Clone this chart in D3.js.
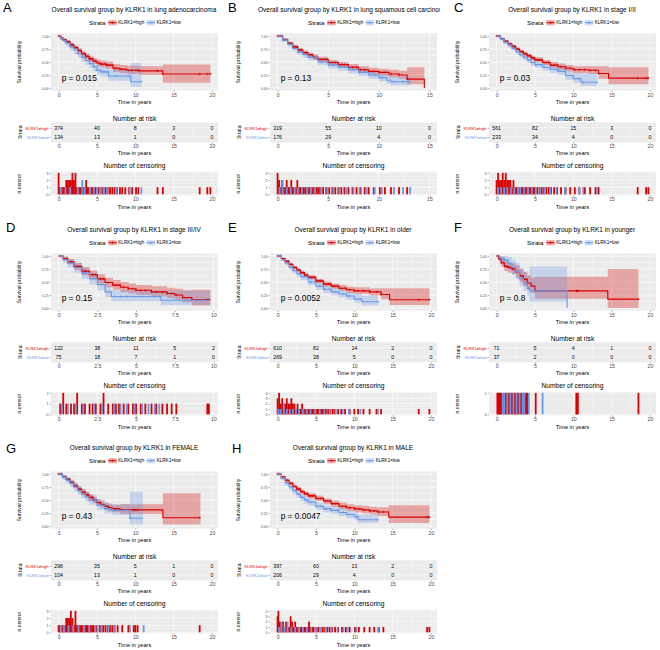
<!DOCTYPE html>
<html>
<head>
<meta charset="utf-8">
<style>
  body { margin: 0; background: #fff; }
  svg text { font-family: "Liberation Sans", Arial, sans-serif; }
</style>
</head>
<body>
<svg id="svg" width="660" height="650"></svg>
<script src="https://d3js.org/d3.v7.min.js"></script>
<script>

// ---- data ----
const letters = ["A", "B", "C", "D", "E", "F", "G", "H"];
const titles = [
  "Overall survival group by KLRK1 in lung adenocarcinoma",
  "Overall survival group by KLRK1 in lung squamous cell carcinoma",
  "Overall survival group by KLRK1 in stage I/II",
  "Overall survival group by KLRK1 in stage III/IV",
  "Overall survival group by KLRK1 in older",
  "Overall survival group by KLRK1 in younger",
  "Overall survival group by KLRK1 in FEMALE",
  "Overall survival group by KLRK1 in MALE"
];
const strata = ["KLRK1=high", "KLRK1=low"];
const xMax = [19.8, 15, 19.8, 9.8, 19.8, 19.8, 19.8, 19.8];
const xStep = [5, 5, 5, 2.5, 5, 5, 5, 5];
const pValues = ["p = 0.015", "p = 0.13", "p = 0.03", "p = 0.15", "p = 0.0052", "p = 0.8", "p = 0.43", "p = 0.0047"];

const riskHigh = [
  [374, 40, 8, 3, 0], [319, 55, 10, 0], [561, 82, 15, 3, 0], [122, 38, 11, 5, 2],
  [610, 82, 14, 2, 0], [71, 5, 4, 1, 0], [296, 35, 5, 1, 0], [397, 60, 13, 2, 0]
];
const riskLow = [
  [134, 13, 1, 0, 0], [176, 29, 4, 0], [233, 34, 4, 0, 0], [75, 18, 7, 1, 0],
  [269, 38, 5, 0, 0], [37, 2, 0, 0, 0], [104, 13, 1, 0, 0], [206, 29, 4, 0, 0]
];

// survival steps: [time, survival, lower CI, upper CI]
const survHigh = [
  [[0,1,1,1],[0.3,0.96,0.94,0.98],[0.6,0.93,0.9,0.95],[1,0.89,0.86,0.92],[1.5,0.83,0.79,0.87],[2,0.78,0.74,0.82],[2.5,0.72,0.67,0.77],[3,0.66,0.61,0.71],[3.5,0.61,0.56,0.67],[4,0.56,0.5,0.62],[4.5,0.52,0.46,0.58],[5,0.48,0.42,0.55],[5.5,0.46,0.4,0.53],[6.2,0.44,0.37,0.51],[7.1,0.38,0.31,0.46],[8,0.36,0.29,0.44],[8.9,0.34,0.27,0.43],[10.5,0.33,0.25,0.42],[13.6,0.27,0.1,0.45],[19.8,0.27,0.1,0.45]],
  [[0,1,1,1],[0.5,0.93,0.91,0.95],[1,0.86,0.83,0.89],[1.5,0.79,0.76,0.83],[2,0.73,0.69,0.77],[2.5,0.68,0.64,0.72],[3,0.64,0.59,0.68],[3.5,0.59,0.54,0.64],[4,0.55,0.5,0.6],[5,0.49,0.44,0.54],[6,0.45,0.39,0.5],[7,0.4,0.34,0.46],[8,0.35,0.29,0.42],[9,0.32,0.26,0.39],[10,0.3,0.23,0.37],[11,0.27,0.2,0.35],[12,0.25,0.18,0.33],[12.8,0.17,0.07,0.4],[14.5,0,0,0]],
  [[0,1,1,1],[0.5,0.95,0.94,0.96],[1,0.9,0.88,0.92],[1.5,0.85,0.82,0.87],[2,0.8,0.77,0.83],[2.5,0.75,0.72,0.78],[3,0.7,0.67,0.74],[3.5,0.66,0.62,0.7],[4,0.62,0.58,0.66],[4.5,0.58,0.54,0.62],[5,0.54,0.5,0.59],[6,0.49,0.44,0.54],[7,0.44,0.39,0.5],[8,0.41,0.35,0.47],[9,0.38,0.32,0.44],[10,0.35,0.29,0.42],[12,0.34,0.27,0.42],[13.3,0.28,0.18,0.42],[14.6,0.19,0.07,0.4],[19.8,0.19,0.07,0.4]],
  [[0,1,1,1],[0.3,0.95,0.91,0.99],[0.6,0.89,0.84,0.94],[1,0.8,0.73,0.87],[1.5,0.71,0.63,0.79],[2,0.64,0.56,0.72],[2.5,0.56,0.47,0.65],[3,0.49,0.4,0.58],[3.5,0.44,0.35,0.54],[4,0.4,0.31,0.5],[4.5,0.37,0.28,0.47],[5,0.34,0.25,0.44],[6,0.31,0.22,0.42],[7,0.28,0.19,0.39],[7.5,0.25,0.16,0.37],[8,0.2,0.11,0.34],[8.6,0.16,0.05,0.35],[9.8,0.16,0.05,0.35]],
  [[0,1,1,1],[0.5,0.95,0.94,0.96],[1,0.9,0.88,0.92],[1.5,0.84,0.82,0.86],[2,0.78,0.75,0.81],[2.5,0.73,0.7,0.76],[3,0.68,0.64,0.71],[3.5,0.63,0.59,0.67],[4,0.59,0.55,0.63],[5,0.52,0.47,0.56],[6,0.46,0.41,0.51],[7,0.42,0.37,0.47],[8,0.38,0.33,0.44],[9,0.35,0.29,0.41],[10,0.33,0.27,0.4],[12,0.31,0.24,0.38],[13.5,0.26,0.17,0.38],[14.6,0.16,0.06,0.38],[19.8,0.16,0.06,0.38]],
  [[0,1,1,1],[0.3,0.95,0.9,1],[0.6,0.87,0.8,0.95],[1,0.8,0.71,0.9],[1.5,0.78,0.68,0.88],[2,0.75,0.65,0.86],[2.5,0.7,0.59,0.82],[3,0.62,0.5,0.75],[3.5,0.55,0.42,0.69],[4,0.48,0.35,0.63],[4.5,0.42,0.29,0.58],[5,0.33,0.18,0.6],[14.5,0.17,0,0.75],[18.5,0.17,0,0.75]],
  [[0,1,1,1],[0.5,0.95,0.93,0.97],[1,0.9,0.87,0.93],[1.5,0.84,0.8,0.88],[2,0.77,0.73,0.82],[2.5,0.71,0.66,0.76],[3,0.65,0.59,0.71],[3.5,0.6,0.54,0.66],[4,0.55,0.49,0.61],[4.5,0.5,0.44,0.56],[5,0.45,0.39,0.52],[5.5,0.41,0.35,0.48],[6,0.38,0.31,0.45],[6.5,0.35,0.28,0.42],[7,0.33,0.26,0.41],[8,0.31,0.23,0.42],[13.6,0.16,0.03,0.63],[18.5,0.16,0.03,0.63]],
  [[0,1,1,1],[0.5,0.94,0.93,0.96],[1,0.88,0.86,0.91],[1.5,0.82,0.79,0.85],[2,0.76,0.73,0.8],[2.5,0.71,0.67,0.75],[3,0.66,0.62,0.7],[3.5,0.62,0.57,0.66],[4,0.58,0.53,0.63],[5,0.53,0.48,0.58],[6,0.48,0.42,0.53],[7,0.43,0.37,0.49],[8,0.38,0.32,0.45],[9,0.35,0.29,0.42],[10,0.33,0.26,0.4],[11,0.31,0.24,0.39],[12,0.29,0.22,0.37],[13,0.27,0.19,0.36],[14.5,0.17,0.06,0.4],[19.8,0.17,0.06,0.4]]
];
const survLow = [
  [[0,1,1,1],[0.3,0.95,0.92,0.98],[0.7,0.9,0.85,0.94],[1,0.86,0.8,0.91],[1.5,0.79,0.72,0.86],[2,0.73,0.65,0.8],[2.5,0.66,0.58,0.75],[3,0.59,0.5,0.68],[3.5,0.53,0.44,0.63],[4,0.47,0.38,0.57],[4.5,0.41,0.32,0.51],[5,0.34,0.25,0.45],[5.5,0.31,0.22,0.42],[6.5,0.23,0.14,0.36],[9.4,0.12,0.02,0.48],[10.8,0.12,0.02,0.48]],
  [[0,1,1,1],[0.5,0.92,0.89,0.95],[1,0.84,0.8,0.88],[1.5,0.76,0.71,0.81],[2,0.69,0.64,0.75],[2.5,0.64,0.58,0.7],[3,0.59,0.53,0.65],[4,0.5,0.44,0.57],[5,0.44,0.37,0.51],[6,0.4,0.33,0.47],[7,0.35,0.28,0.43],[8,0.3,0.23,0.38],[9,0.25,0.18,0.33],[10,0.2,0.13,0.29],[10.8,0.15,0.08,0.25],[11.2,0.12,0.05,0.22],[13.1,0.12,0.05,0.22]],
  [[0,1,1,1],[0.5,0.94,0.92,0.96],[1,0.88,0.85,0.91],[1.5,0.82,0.78,0.86],[2,0.76,0.72,0.8],[2.5,0.7,0.65,0.75],[3,0.64,0.59,0.69],[3.5,0.59,0.54,0.64],[4,0.54,0.48,0.6],[4.5,0.49,0.43,0.55],[5,0.45,0.39,0.51],[6,0.4,0.34,0.47],[7,0.36,0.29,0.43],[8,0.32,0.25,0.4],[9,0.24,0.16,0.34],[10,0.18,0.1,0.3],[11,0.11,0.04,0.29],[13.1,0.11,0.04,0.29]],
  [[0,1,1,1],[0.3,0.93,0.87,0.99],[0.6,0.86,0.78,0.94],[1,0.78,0.68,0.87],[1.5,0.67,0.56,0.78],[2,0.56,0.45,0.68],[2.5,0.45,0.34,0.57],[3,0.31,0.21,0.43],[3.4,0.22,0.13,0.34],[6.6,0.15,0.06,0.33],[9.8,0.15,0.06,0.33]],
  [[0,1,1,1],[0.5,0.93,0.9,0.96],[1,0.86,0.82,0.9],[1.5,0.79,0.74,0.84],[2,0.72,0.67,0.77],[2.5,0.66,0.6,0.72],[3,0.6,0.54,0.66],[4,0.5,0.44,0.57],[5,0.42,0.35,0.49],[6,0.36,0.29,0.43],[7,0.31,0.24,0.39],[8,0.27,0.2,0.35],[9,0.23,0.16,0.31],[10,0.17,0.1,0.27],[11,0.12,0.05,0.24],[13.1,0.12,0.05,0.24]],
  [[0,1,1,1],[0.4,0.96,0.88,1],[1,0.92,0.82,1],[1.5,0.85,0.73,0.98],[2,0.78,0.65,0.93],[2.5,0.7,0.56,0.87],[3,0.57,0.42,0.77],[3.5,0.48,0.33,0.7],[4,0.38,0.23,0.62],[4.3,0.33,0.12,0.8],[9.2,0,0,0]],
  [[0,1,1,1],[0.5,0.94,0.9,0.98],[1,0.88,0.82,0.94],[1.5,0.82,0.75,0.89],[2,0.75,0.67,0.83],[2.5,0.68,0.6,0.77],[3,0.62,0.53,0.71],[3.5,0.56,0.47,0.66],[4,0.5,0.41,0.6],[5,0.4,0.31,0.51],[6,0.33,0.24,0.44],[7,0.3,0.21,0.42],[9.3,0.15,0.03,0.66],[11,0.15,0.03,0.66]],
  [[0,1,1,1],[0.5,0.92,0.88,0.95],[1,0.83,0.78,0.88],[1.5,0.75,0.69,0.81],[2,0.68,0.61,0.74],[2.5,0.61,0.54,0.68],[3,0.55,0.48,0.62],[3.5,0.5,0.43,0.57],[4,0.46,0.39,0.53],[5,0.38,0.31,0.45],[6,0.33,0.26,0.4],[7,0.3,0.23,0.37],[8,0.26,0.19,0.34],[9,0.22,0.15,0.3],[10,0.18,0.11,0.26],[10.5,0.12,0.06,0.22],[13.1,0.12,0.06,0.22]]
];

// censoring events: [time, count]
const censorHigh = [
  [[0,3],[0.2,1],[0.4,1],[0.6,1],[0.8,1],[1.0,2],[1.2,2],[1.4,2],[1.6,2],[1.8,3],[2.0,2],[2.2,3],[2.4,1],[2.6,1],[2.8,1],[3.0,1],[3.2,1],[3.4,1],[3.6,2],[3.8,1],[4.0,1],[4.2,1],[4.4,1],[4.6,1],[4.8,1],[5.2,1],[5.5,1],[5.8,1],[6.1,1],[6.4,1],[6.7,1],[7.0,1],[7.3,1],[7.6,1],[8.0,1],[8.3,1],[8.7,1],[9.2,1],[9.6,1],[10.1,1],[10.4,1],[12.9,1],[13.6,1],[18.4,1],[19.4,1],[19.8,1]],
  [[0,3],[0.15,2],[0.3,1],[0.45,2],[0.6,1],[0.75,1],[0.9,2],[1.05,1],[1.2,1],[1.35,2],[1.5,1],[1.65,1],[1.8,1],[1.95,2],[2.1,1],[2.25,1],[2.4,1],[2.6,1],[2.8,1],[3.0,1],[3.2,1],[3.4,1],[3.6,1],[3.8,1],[4.0,1],[4.2,1],[4.5,1],[4.8,1],[5.1,1],[5.4,1],[5.7,1],[6.0,1],[6.3,1],[6.6,1],[7.0,1],[7.4,1],[7.8,1],[8.2,1],[8.6,1],[9.0,1],[9.5,1],[10.1,1],[10.6,1],[11.2,1],[12.0,1],[12.8,1]],
  [[0,2],[0.2,3],[0.4,2],[0.6,2],[0.8,3],[1.0,2],[1.2,3],[1.4,2],[1.6,2],[1.8,2],[2.0,1],[2.2,2],[2.4,1],[2.6,1],[2.8,1],[3.0,1],[3.2,1],[3.4,1],[3.6,1],[3.8,1],[4.0,1],[4.2,1],[4.4,1],[4.6,1],[4.8,1],[5.0,1],[5.3,1],[5.6,1],[5.9,1],[6.2,1],[6.5,1],[6.8,1],[7.1,1],[7.5,1],[7.9,1],[8.4,1],[9.0,1],[9.6,1],[10.2,1],[10.8,1],[11.5,1],[12.2,1],[12.9,1],[13.3,1],[18.4,1],[19.5,1],[19.8,1]],
  [[0.1,1],[0.3,2],[0.5,1],[0.8,1],[1.0,1],[1.2,2],[1.5,1],[1.7,1],[2.0,1],[2.2,1],[2.4,1],[2.7,1],[2.9,2],[3.2,1],[3.5,1],[3.7,1],[3.9,1],[4.2,1],[4.5,1],[4.8,1],[5.0,1],[5.3,1],[5.6,1],[6.0,1],[6.3,1],[6.7,1],[7.0,1],[7.3,1],[7.6,1],[9.6,1],[9.7,1]],
  [[0,3],[0.2,4],[0.4,2],[0.6,3],[0.8,2],[1.0,2],[1.2,3],[1.4,2],[1.6,2],[1.8,3],[2.0,2],[2.2,2],[2.4,1],[2.6,2],[2.8,1],[3.0,1],[3.2,2],[3.4,1],[3.6,1],[3.8,1],[4.0,1],[4.2,1],[4.4,1],[4.6,1],[4.8,1],[5.0,1],[5.2,1],[5.4,1],[5.6,1],[5.8,1],[6.0,1],[6.3,1],[6.6,1],[6.9,1],[7.2,1],[7.5,1],[7.9,1],[8.3,1],[8.8,1],[9.4,1],[10.0,1],[10.5,1],[11.2,1],[12.0,1],[12.9,1],[13.5,1],[18.4,1],[19.8,1]],
  [[0.1,1],[0.2,1],[0.3,1],[0.4,1],[0.5,1],[0.6,1],[0.9,1],[1.1,1],[1.3,1],[1.5,1],[1.7,1],[1.9,1],[2.1,1],[2.3,1],[2.5,1],[2.7,1],[2.9,1],[3.1,1],[3.3,1],[3.5,1],[3.7,1],[3.9,1],[4.0,1],[5.1,1],[10.4,1],[10.5,1],[10.6,1],[18.5,1]],
  [[0,1],[0.2,1],[0.4,1],[0.6,1],[0.8,1],[1.0,2],[1.2,2],[1.4,2],[1.6,3],[1.8,2],[2.0,1],[2.2,3],[2.4,1],[2.6,1],[2.8,1],[3.0,1],[3.2,1],[3.4,1],[3.6,1],[3.8,1],[4.0,1],[4.2,1],[4.4,1],[4.6,1],[5.0,1],[5.4,1],[5.8,1],[6.1,1],[6.4,1],[6.7,1],[7.0,1],[7.3,1],[7.7,1],[8.3,1],[9.1,1],[9.8,1],[10.0,1],[10.3,1],[18.4,1]],
  [[0,3],[0.1,4],[0.3,2],[0.5,1],[0.7,2],[0.9,1],[1.1,2],[1.3,1],[1.5,1],[1.7,3],[1.9,2],[2.1,1],[2.3,2],[2.5,1],[2.7,1],[2.9,1],[3.1,1],[3.3,1],[3.5,1],[3.7,1],[3.9,1],[4.1,2],[4.3,1],[4.5,1],[4.7,1],[5.0,1],[5.3,1],[5.6,1],[5.9,1],[6.2,1],[6.5,1],[6.8,1],[7.1,1],[7.5,1],[7.9,1],[8.4,1],[8.9,1],[9.4,1],[10.1,1],[10.6,1],[11.3,1],[12.0,1],[12.6,1],[13.2,1],[13.8,1],[19.5,1],[19.8,1]]
];
const censorLow = [
  [[0.3,1],[0.9,1],[1.5,1],[2.5,1],[3.1,2],[3.4,1],[4.1,1],[4.6,1],[5.0,1],[5.4,1],[5.9,1],[6.3,1],[7.5,1],[9.3,1],[10.8,1]],
  [[0.2,1],[0.5,2],[0.9,1],[1.3,1],[1.7,1],[2.0,1],[2.4,1],[2.9,1],[3.3,1],[3.7,1],[4.3,1],[4.9,1],[5.5,1],[6.1,1],[6.8,1],[7.5,1],[8.1,1],[8.8,1],[9.6,1],[10.3,1],[11.5,1],[12.4,1],[13.1,1]],
  [[0.2,1],[0.6,1],[1.0,1],[1.4,1],[1.9,1],[2.3,1],[2.8,1],[3.1,1],[3.6,1],[4.1,1],[4.6,1],[5.1,1],[5.7,1],[6.3,1],[7.0,1],[7.8,1],[8.9,1],[10.8,1],[11.3,1],[13.1,1]],
  [[0.2,1],[0.6,1],[1.1,1],[1.6,1],[2.3,1],[2.8,1],[3.6,1],[4.0,1],[4.4,1],[4.9,1],[5.4,1],[5.8,1],[6.2,1],[6.5,1]],
  [[0.1,1],[0.4,1],[0.8,2],[1.2,1],[1.6,1],[2.0,1],[2.4,1],[2.8,1],[3.3,1],[3.8,1],[4.3,1],[4.9,1],[5.5,1],[6.1,1],[6.8,1],[7.6,1],[8.5,1],[9.3,1],[10.8,1],[13.1,1]],
  [[0.8,1],[1.0,1],[1.4,1],[1.8,1],[2.2,1],[2.6,1],[3.0,1],[3.4,1],[3.6,1],[4.2,1],[6.0,1]],
  [[0.3,1],[0.7,1],[1.3,1],[1.9,1],[2.6,1],[3.3,1],[4.0,1],[4.8,1],[5.1,1],[5.6,1],[6.5,1],[7.2,1],[9.3,1],[11.1,1]],
  [[0.2,1],[0.5,2],[0.9,1],[1.3,2],[1.8,1],[2.3,1],[2.8,1],[3.3,1],[3.8,1],[4.4,1],[5.0,1],[5.6,1],[6.3,1],[7.0,1],[7.8,1],[8.6,1],[9.2,1],[10.3,1],[13.1,1]]
];

// ---- layout ----
const COLS = [0, 219, 438];
const ROWS = [0, 220, 438];
const letterPos = [[3, 12.3], [228, 12.3], [454, 12.3], [6, 231.7], [228, 231.7], [454, 231.7], [6, 453], [232, 453]];
const RED = "#D80000", BLUE = "#6A98E6";
const GREY_TXT = "#4D4D4D";
const PL = 51, PR = 218;          // plot left / right
const PCX = (PL + PR) / 2;

const svg = d3.select("#svg");
const defs = svg.append("defs");

function label(g, x, y, s, size, o) {
  o = o || {};
  const t = g.append("text").attr("x", x).attr("y", y).text(s)
    .attr("font-size", size)
    .attr("text-anchor", o.anchor || "middle")
    .attr("fill", o.fill || "#000");
  if (o.rotate) t.attr("transform", `rotate(-90,${x},${y})`);
  return t;
}

function panelBg(g, top, bottom, xs, xMajor, xMinor, ys, yMajor, yMinor) {
  g.append("rect").attr("x", PL).attr("y", top).attr("width", PR - PL).attr("height", bottom - top).attr("fill", "#EBEBEB");
  g.selectAll(null).data(xMinor).enter().append("line")
    .attr("x1", d => xs(d)).attr("x2", d => xs(d)).attr("y1", top).attr("y2", bottom)
    .attr("stroke", "#fff").attr("stroke-width", 0.3);
  g.selectAll(null).data(yMinor).enter().append("line")
    .attr("y1", d => ys(d)).attr("y2", d => ys(d)).attr("x1", PL).attr("x2", PR)
    .attr("stroke", "#fff").attr("stroke-width", 0.3);
  g.selectAll(null).data(xMajor).enter().append("line")
    .attr("x1", d => xs(d)).attr("x2", d => xs(d)).attr("y1", top).attr("y2", bottom)
    .attr("stroke", "#fff").attr("stroke-width", 0.6);
  g.selectAll(null).data(yMajor).enter().append("line")
    .attr("y1", d => ys(d)).attr("y2", d => ys(d)).attr("x1", PL).attr("x2", PR)
    .attr("stroke", "#fff").attr("stroke-width", 0.6);
}

function styleAxis(a, size) {
  a.attr("font-family", null).attr("font-size", size);
  a.select(".domain").remove();
  a.selectAll("line").attr("stroke", "#333").attr("stroke-width", 0.4);
  a.selectAll("text").attr("fill", GREY_TXT);
}

function bottomAxis(g, xs, ticks, y) {
  g.append("g").attr("transform", `translate(0,${y})`)
    .call(d3.axisBottom(xs).tickValues(ticks).tickSize(1.4).tickPadding(1).tickFormat(d3.format("~g")))
    .call(a => styleAxis(a, 5.2));
}

function survAt(steps, t) {
  let s = 1;
  steps.forEach(d => { if (d[0] <= t) s = d[1]; });
  return s;
}

function drawPanel(i) {
  const ox = COLS[i % 3], oy = ROWS[Math.floor(i / 3)];
  const xm = xMax[i], step = xStep[i];
  const root = svg.append("g").attr("transform", `translate(${ox},${oy})`);
  defs.append("clipPath").attr("id", "clip" + i).append("rect").attr("width", 221).attr("height", 216);
  const g = root.append("g").attr("clip-path", `url(#clip${i})`);

  const groups = [
    { name: strata[0], color: RED, surv: survHigh[i], cens: censorHigh[i], risk: riskHigh[i] },
    { name: strata[1], color: BLUE, surv: survLow[i], cens: censorLow[i], risk: riskLow[i] }
  ];

  const x = d3.scaleLinear().domain([-0.05 * xm, 1.05 * xm]).range([PL, PR]);
  const xTicks = d3.range(0, 1.05 * xm + 1e-6, step);
  const xMinor = xTicks.map(t => t + step / 2).filter(t => t < 1.05 * xm);

  // ---- title + legend ----
  label(g, 134, 12, titles[i], 6.5);
  label(g, 89, 25, "Strata", 6.2, { anchor: "start" });
  const keyX = [108.3, 146.7];
  groups.forEach((gr, k) => {
    const kx = keyX[k];
    g.append("rect").attr("x", kx).attr("y", 20).attr("width", 8.4).attr("height", 5.4)
      .attr("fill", gr.color).attr("fill-opacity", 0.3);
    g.append("line").attr("x1", kx).attr("x2", kx + 8.4).attr("y1", 22.7).attr("y2", 22.7)
      .attr("stroke", gr.color).attr("stroke-width", 1);
    g.append("path").attr("d", `M${kx + 2.7},22.7h3M${kx + 4.2},21.2v3`)
      .attr("stroke", gr.color).attr("stroke-width", 0.6);
    label(g, kx + 10, 24.4, gr.name, 4.6, { anchor: "start" });
  });

  // ---- survival curves ----
  const T1 = 33.4, B1 = 90.6;
  const y = d3.scaleLinear().domain([-0.05, 1.05]).range([B1, T1]);
  panelBg(g, T1, B1, x, xTicks, xMinor, y, [0, 0.25, 0.5, 0.75, 1], [0.125, 0.375, 0.625, 0.875]);

  const band = d3.area().curve(d3.curveStepAfter)
    .x(d => x(d[0])).y0(d => y(d[2])).y1(d => y(d[3]));
  const line = d3.line().curve(d3.curveStepAfter)
    .x(d => x(d[0])).y(d => y(d[1]));

  groups.forEach(gr => {
    g.append("path").datum(gr.surv).attr("d", band)
      .attr("fill", gr.color).attr("fill-opacity", 0.3);
  });
  groups.forEach(gr => {
    g.append("path").datum(gr.surv).attr("d", line)
      .attr("fill", "none").attr("stroke", gr.color).attr("stroke-width", 1.1);
    const end = gr.surv[gr.surv.length - 1][0];
    g.selectAll(null).data(gr.cens.filter(c => c[0] <= end)).enter().append("path")
      .attr("transform", d => `translate(${x(d[0])},${y(survAt(gr.surv, d[0]))})`)
      .attr("d", "M-1.3,0H1.3M0,-1.3V1.3")
      .attr("stroke", gr.color).attr("stroke-width", 0.55);
  });

  g.append("text").attr("x", x(xm * 0.02)).attr("y", y(0.2)).attr("dy", "0.36em")
    .attr("font-size", 8.4).text(pValues[i]);

  g.append("g").attr("transform", `translate(${PL},0)`)
    .call(d3.axisLeft(y).tickValues([0, 0.25, 0.5, 0.75, 1]).tickSize(1.4).tickPadding(1).tickFormat(d3.format(".2f")))
    .call(a => styleAxis(a, 3.4));
  bottomAxis(g, x, xTicks, B1);
  label(g, PCX, 103.5, "Time in years", 5.6);
  label(g, 21, 62, "Survival probability", 5.1, { rotate: true });

  // ---- number at risk ----
  const T2 = 122.3, B2 = 142.3;
  label(g, PCX, 120.8, "Number at risk", 6.7);
  const yr = d3.scalePoint().domain(strata).range([T2, B2]).padding(0.6);
  g.append("rect").attr("x", PL).attr("y", T2).attr("width", PR - PL).attr("height", B2 - T2).attr("fill", "#EBEBEB");
  g.selectAll(null).data(xMinor).enter().append("line")
    .attr("x1", d => x(d)).attr("x2", d => x(d)).attr("y1", T2).attr("y2", B2)
    .attr("stroke", "#fff").attr("stroke-width", 0.3);
  g.selectAll(null).data(xTicks).enter().append("line")
    .attr("x1", d => x(d)).attr("x2", d => x(d)).attr("y1", T2).attr("y2", B2)
    .attr("stroke", "#fff").attr("stroke-width", 0.6);
  g.selectAll(null).data(strata).enter().append("line")
    .attr("y1", d => yr(d)).attr("y2", d => yr(d)).attr("x1", PL).attr("x2", PR)
    .attr("stroke", "#fff").attr("stroke-width", 0.6);
  groups.forEach(gr => {
    g.selectAll(null).data(gr.risk).enter().append("text")
      .attr("x", (d, j) => x(xTicks[j])).attr("y", yr(gr.name)).attr("dy", "0.36em")
      .attr("text-anchor", "middle").attr("font-size", 5.2).text(d => d);
  });
  const ya = g.append("g").attr("transform", `translate(${PL},0)`)
    .call(d3.axisLeft(yr).tickSize(1.4).tickPadding(1))
    .call(a => styleAxis(a, 4.1));
  ya.selectAll("text").attr("fill", (d, j) => groups[j].color);
  bottomAxis(g, x, xTicks, B2);
  label(g, PCX, 155, "Time in years", 5.6);
  label(g, 22, 132.3, "Strata", 5.1, { rotate: true });

  // ---- number of censoring ----
  const T3 = 171.8, B3 = 195.4;
  label(g, PCX, 167.5, "Number of censoring", 6.7);
  const cMax = d3.max(groups, gr => d3.max(gr.cens, d => d[1]));
  const yc = d3.scaleLinear().domain([-0.05 * cMax, 1.05 * cMax]).range([B3, T3]);
  const cTicks = d3.range(0, cMax + 1);
  panelBg(g, T3, B3, x, xTicks, xMinor, yc, cTicks, cTicks.slice(1).map(v => v - 0.5));
  groups.forEach(gr => {
    g.selectAll(null).data(gr.cens).enter().append("rect")
      .attr("x", d => x(d[0]) - 0.9).attr("width", 1.8)
      .attr("y", d => yc(d[1])).attr("height", d => yc(0) - yc(d[1]))
      .attr("fill", gr.color);
  });
  g.append("g").attr("transform", `translate(${PL},0)`)
    .call(d3.axisLeft(yc).tickValues(cTicks).tickSize(1.4).tickPadding(1).tickFormat(d3.format("d")))
    .call(a => styleAxis(a, 3.6));
  bottomAxis(g, x, xTicks, B3);
  label(g, PCX, 208.5, "Time in years", 5.6);
  label(g, 21, 183.6, "n.censor", 5.1, { rotate: true });

  // panel letter
  svg.append("text").attr("x", letterPos[i][0]).attr("y", letterPos[i][1])
    .attr("font-size", 13).text(letters[i]);
}

letters.forEach((d, i) => drawPanel(i));

</script>
</body>
</html>
